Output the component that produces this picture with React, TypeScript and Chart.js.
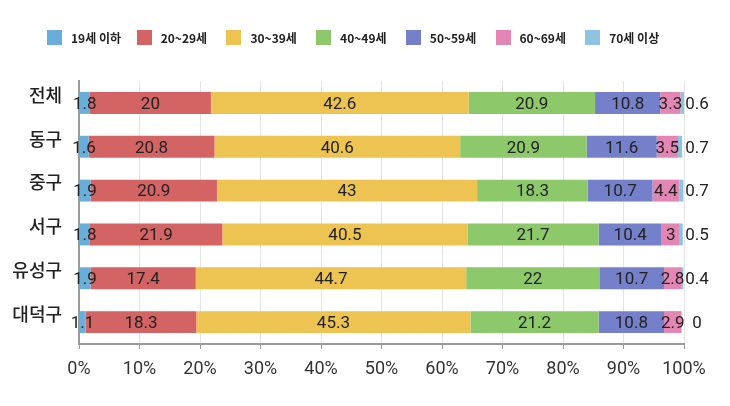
import React, { useEffect, useRef } from "react";
import { Chart, registerables } from "chart.js";

Chart.register(...registerables);

const regions = ["전체", "동구", "중구", "서구", "유성구", "대덕구"];
const ageGroups = ["19세 이하", "20~29세", "30~39세", "40~49세", "50~59세", "60~69세", "70세 이상"];
const colors = ["#68AED8", "#D46363", "#EDC451", "#8DC96A", "#7480CA", "#E486B4", "#8FC4E0"];

const age19 = [1.8, 1.6, 1.9, 1.8, 1.9, 1.1];
const age20 = [20, 20.8, 20.9, 21.9, 17.4, 18.3];
const age30 = [42.6, 40.6, 43, 40.5, 44.7, 45.3];
const age40 = [20.9, 20.9, 18.3, 21.7, 22, 21.2];
const age50 = [10.8, 11.6, 10.7, 10.4, 10.7, 10.8];
const age60 = [3.3, 3.5, 4.4, 3, 2.8, 2.9];
const age70 = [0.6, 0.7, 0.7, 0.5, 0.4, 0];
const seriesValues = [age19, age20, age30, age40, age50, age60, age70];

const xTicks = [0, 10, 20, 30, 40, 50, 60, 70, 80, 90, 100];

const labelPlugin = {
  id: "valueLabels",
  afterDatasetsDraw(chart: any) {
    const { ctx, chartArea } = chart;
    ctx.save();
    ctx.font = "17px Roboto";
    ctx.fillStyle = "#222";
    ctx.textAlign = "center";
    ctx.textBaseline = "middle";
    const last = chart.data.datasets.length - 1;
    chart.data.datasets.forEach((ds: any, di: number) => {
      const meta = chart.getDatasetMeta(di);
      meta.data.forEach((bar: any, i: number) => {
        const v = ds.data[i];
        let x = (bar.x + bar.base) / 2;
        if (di === last) x = chartArea.right + 13;
        ctx.fillText(String(v), x, bar.y + 1.5);
      });
    });
    ctx.restore();
  },
};

export default function App() {
  const ref = useRef<HTMLCanvasElement>(null);
  useEffect(() => {
    if (!ref.current) return;
    const chart = new Chart(ref.current, {
      type: "bar",
      data: {
        labels: regions,
        datasets: ageGroups.map((g, i) => ({
          label: g,
          data: seriesValues[i],
          backgroundColor: colors[i],
          borderWidth: 0,
          categoryPercentage: 1,
          barPercentage: 0.5,
        })),
      },
      options: {
        indexAxis: "y",
        animation: false,
        responsive: false,
        maintainAspectRatio: false,
        layout: { padding: { top: 81, right: 46, left: 0, bottom: 0 } },
        plugins: { legend: { display: false }, tooltip: { enabled: false } },
        scales: {
          x: {
            stacked: true,
            min: 0,
            max: 100,
            afterBuildTicks: (scale: any) => {
              scale.ticks = xTicks.map((v) => ({ value: v }));
            },
            afterFit: (scale: any) => {
              scale.height = 62;
            },
            ticks: {
              callback: (v: any) => v + "%",
              font: { family: "Roboto", size: 18 },
              color: "#333",
              padding: 10,
            },
            grid: { color: "#E4E4E4", lineWidth: 1, tickColor: "#999", tickLength: 5 },
            border: { color: "#999", width: 2 },
          },
          y: {
            stacked: true,
            afterFit: (scale: any) => {
              scale.width = 79;
            },
            ticks: {
              font: { family: "Noto Sans CJK KR", size: 18, weight: "500" },
              color: "#222",
              padding: 17,
              labelOffset: -8,
            },
            grid: { display: false, drawTicks: false },
            border: { color: "#999", width: 2 },
          },
        },
      },
      plugins: [labelPlugin],
    } as any);
    return () => chart.destroy();
  }, []);

  return (
    <div style={{ position: "fixed", left: 0, top: 0, width: 730, height: 406, background: "#fff" }}>
      <canvas ref={ref} width={730} height={406} style={{ position: "absolute", left: 0, top: 0 }} />
      {ageGroups.map((g, i) => (
        <div
          key={g}
          style={{
            position: "absolute",
            left: 47 + i * 89.7,
            top: 30,
            height: 15,
            display: "flex",
            alignItems: "center",
            whiteSpace: "nowrap",
          }}
        >
          <span style={{ display: "inline-block", width: 15, height: 15, background: colors[i] }} />
          <span
            style={{
              marginLeft: 9,
              fontFamily: "'Noto Sans CJK KR', sans-serif",
              fontSize: 12,
              fontWeight: 600,
              color: "#222",
            }}
          >
            {g}
          </span>
        </div>
      ))}
    </div>
  );
}
